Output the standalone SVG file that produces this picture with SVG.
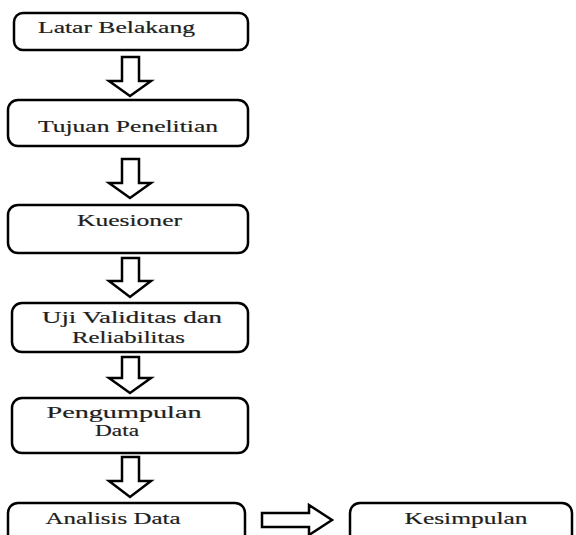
<svg xmlns="http://www.w3.org/2000/svg" width="576" height="535" viewBox="0 0 576 535">
<style>
.box{fill:#fff;stroke:#000;stroke-width:2.5}
.arr{fill:#fff;stroke:#000;stroke-width:2.5;stroke-linejoin:miter}
.t{font-family:'Liberation Serif','DejaVu Serif',serif;font-size:17px;fill:#1e1e1e;stroke:#1e1e1e;stroke-width:0.2;text-anchor:middle}
</style>
<rect width="576" height="535" fill="#fff"/>
<g id="connectors">
<polygon class="arr" points="122,57 139,57 139,81 151,81 130,96 109,81 122,81"/>
<polygon class="arr" points="122,159 139,159 139,183 151,183 130,198 109,183 122,183"/>
<polygon class="arr" points="122,258 139,258 139,281 151,281 130,297 109,281 122,281"/>
<polygon class="arr" points="122,357 139,357 139,378 151,378 130,393 109,378 122,378"/>
<polygon class="arr" points="122,457 139,457 139,481 151,481 130,497 109,481 122,481"/>
<polygon class="arr" points="262,513 309,513 309,505 332,520 309,535 309,527 262,527"/>
</g>
<g id="n1"><rect class="box" x="14" y="13" width="234" height="37" rx="9"/><text class="t" x="116.5" y="33" textLength="157" lengthAdjust="spacingAndGlyphs">Latar Belakang</text></g>
<g id="n2"><rect class="box" x="8" y="100" width="240" height="46" rx="10"/><text class="t" x="128" y="132" textLength="180" lengthAdjust="spacingAndGlyphs">Tujuan Penelitian</text></g>
<g id="n3"><rect class="box" x="8" y="205" width="240" height="48" rx="10"/><text class="t" x="129.5" y="226" textLength="105" lengthAdjust="spacingAndGlyphs">Kuesioner</text></g>
<g id="n4"><rect class="box" x="12" y="303" width="236" height="49" rx="10"/><text class="t" x="132" y="323" textLength="180" lengthAdjust="spacingAndGlyphs">Uji Validitas dan</text><text class="t" x="128.5" y="343" textLength="113" lengthAdjust="spacingAndGlyphs">Reliabilitas</text></g>
<g id="n5"><rect class="box" x="12" y="398" width="236" height="55" rx="10"/><text class="t" x="124" y="418" textLength="155" lengthAdjust="spacingAndGlyphs">Pengumpulan</text><text class="t" x="117" y="436" textLength="44" lengthAdjust="spacingAndGlyphs">Data</text></g>
<g id="n6"><rect class="box" x="8" y="503" width="237" height="50" rx="10"/><text class="t" x="113" y="524" textLength="135" lengthAdjust="spacingAndGlyphs">Analisis Data</text></g>
<g id="n7"><rect class="box" x="350" y="503" width="222" height="50" rx="10"/><text class="t" x="466" y="524" textLength="123" lengthAdjust="spacingAndGlyphs">Kesimpulan</text></g>
</svg>
